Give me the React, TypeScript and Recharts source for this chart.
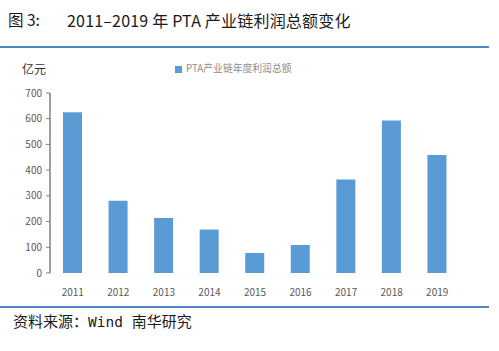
import React from 'react';
import { BarChart, Bar, XAxis, YAxis, Legend } from 'recharts';

const years = ['2011', '2012', '2013', '2014', '2015', '2016', '2017', '2018', '2019'];
const profits = [625, 281, 214, 169, 78, 109, 364, 593, 459];
const yTicks = [0, 100, 200, 300, 400, 500, 600, 700];
const seriesName = 'PTA产业链年度利润总额';

const data = years.map((y, i) => ({ year: y, value: profits[i], idx: i + 0.5 }));
const boundaryTicks = years.map((_, i) => i).concat([years.length]);

const FONT = '"Noto Sans CJK SC", "Noto Sans", sans-serif';
const AXIS_COLOR = '#7f7f7f';
const TEXT_COLOR = '#595959';

export default function App() {
  return (
    <div style={{ position: 'absolute', left: 0, top: 0, width: 499, height: 351, background: '#fff', fontFamily: FONT }}>
      <div style={{ position: 'absolute', left: 8, top: 8, fontSize: 15.5, color: '#1a1a1a', whiteSpace: 'pre' }}>图 3:</div>
      <div style={{ position: 'absolute', left: 67, top: 8, fontSize: 16, color: '#1a1a1a', whiteSpace: 'pre', letterSpacing: 0.2 }}>
        {'2011–2019 年 PTA 产业链利润总额变化'}
      </div>
      <div style={{ position: 'absolute', left: 0, top: 46, width: 489, height: 2, background: '#4f86c6' }} />
      <div style={{ position: 'absolute', left: 22, top: 60, fontSize: 12, color: '#333' }}>亿元</div>
      <BarChart
        width={499}
        height={351}
        data={data}
        margin={{ top: 79, right: 39, bottom: 48, left: 0 }}
      >
        <XAxis
          dataKey="year"
          xAxisId="cat"
          tickLine={false}
          axisLine={false}
          tick={{ fontSize: 10, fill: TEXT_COLOR, fontFamily: FONT }}
          tickMargin={10}
          height={30}
        />
        <XAxis
          xAxisId="grid"
          type="number"
          dataKey="idx"
          domain={[0, years.length]}
          ticks={boundaryTicks}
          tickFormatter={() => ''}
          tickSize={4}
          tickLine={{ stroke: AXIS_COLOR }}
          axisLine={{ stroke: AXIS_COLOR, strokeWidth: 1.5 }}
          height={0}
          allowDataOverflow
        />
        <YAxis
          width={50}
          domain={[0, 700]}
          ticks={yTicks}
          interval={0}
          tickSize={4}
          tickLine={{ stroke: AXIS_COLOR }}
          axisLine={{ stroke: AXIS_COLOR, strokeWidth: 1.5 }}
          tick={{ fontSize: 10, fill: TEXT_COLOR, fontFamily: FONT }}
          tickMargin={4}
        />
        <Legend
          verticalAlign="top"
          align="left"
          iconType="square"
          iconSize={7}
          wrapperStyle={{ position: 'absolute', top: 61, left: 175, width: 170, fontSize: 9.8, color: TEXT_COLOR, fontFamily: FONT }}
          formatter={(v: string) => <span style={{ color: '#8c8c8c' }}>{v}</span>}
        />
        <Bar xAxisId="cat" dataKey="value" name={seriesName} fill="#5b9bd5" barSize={19} isAnimationActive={false} />
      </BarChart>
      <div style={{ position: 'absolute', left: 0, top: 306, width: 489, height: 1.5, background: '#4f86c6' }} />
      <div style={{ position: 'absolute', left: 13, top: 310, fontSize: 15, color: '#1a1a1a', whiteSpace: 'pre' }}>
        资料来源：<span style={{ fontFamily: '"DejaVu Sans Mono", monospace', fontSize: 14.5 }}>Wind </span>南华研究
      </div>
    </div>
  );
}
